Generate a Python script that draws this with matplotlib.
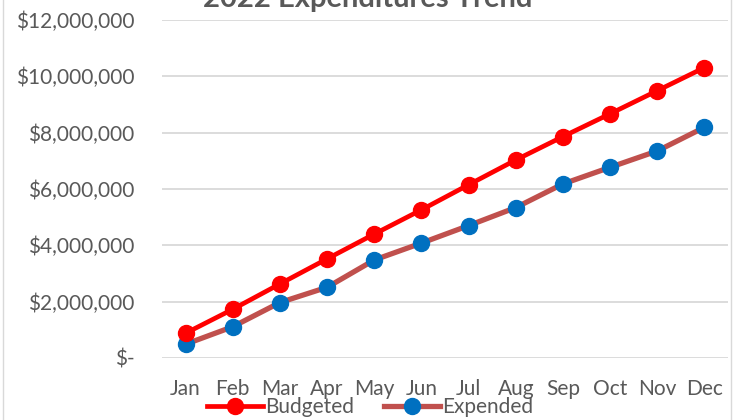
import matplotlib
matplotlib.use("Agg")
import matplotlib.pyplot as plt
from matplotlib.ticker import FuncFormatter
from matplotlib.lines import Line2D

months = ["Jan", "Feb", "Mar", "Apr", "May", "Jun", "Jul", "Aug", "Sep", "Oct", "Nov", "Dec"]
budgeted = [880000, 1730000, 2630000, 3520000, 4400000, 5260000, 6150000, 7030000, 7860000, 8670000, 9490000, 10310000]
expended = [490000, 1110000, 1970000, 2510000, 3480000, 4080000, 4700000, 5340000, 6180000, 6770000, 7350000, 8190000]
title = "2022 Expenditures Trend"

plt.rcParams['font.family'] = ['Lato', 'DejaVu Sans']
grey = "#595959"

fig = plt.figure(figsize=(7.38, 4.2), dpi=100)
ax = fig.add_axes([162/738, 62/420, (728-162)/738, (358-20)/420])

x = list(range(len(months)))
ax.plot(x, budgeted, color="#FF0000", lw=3.4, marker="o", ms=11.5, mfc="#FF0000", mec="#FF0000",
        solid_capstyle="round", zorder=3)
ax.plot(x, expended, color="#C0504D", lw=3.8, marker="o", ms=11.5, mfc="#0070C0", mec="#0070C0",
        solid_capstyle="round", zorder=2)

ax.set_xlim(-0.5, 11.5)
ax.set_ylim(0, 12000000)
ax.set_yticks(range(0, 12000001, 2000000))
ax.yaxis.set_major_formatter(FuncFormatter(lambda v, p: "$-" if v == 0 else "${:,.0f}".format(v)))
ax.set_xticks(x)
ax.set_xticklabels(months)
ax.tick_params(axis="both", length=0, labelsize=15, labelcolor=grey)
ax.tick_params(axis="y", pad=20)
ax.tick_params(axis="x", pad=15)
ax.grid(axis="y", color="#d9d9d9", lw=1.3)
ax.set_axisbelow(True)
for s in ax.spines.values():
    s.set_visible(False)

fig.text(367.5/738, 1 - 7/420, title, ha="center", va="baseline", fontsize=21,
         fontweight="bold", color=grey)

handles = [
    Line2D([], [], color="#FF0000", lw=3.4, marker="o", ms=11.5, mfc="#FF0000", mec="#FF0000"),
    Line2D([], [], color="#C0504D", lw=3.8, marker="o", ms=11.5, mfc="#0070C0", mec="#0070C0"),
]
fig.legend(handles, ["Budgeted", "Expended"], loc="center", bbox_to_anchor=(370/738, 1 - 407/420),
           ncol=2, frameon=False, fontsize=15, labelcolor=grey, handlelength=2.7,
           handletextpad=0.1, columnspacing=1.4, borderpad=0, borderaxespad=0)

fig.add_artist(Line2D([3/738, 3/738], [0, 1], transform=fig.transFigure, color="#d9d9d9", lw=1))
fig.add_artist(Line2D([731/738, 731/738], [0, 1], transform=fig.transFigure, color="#d9d9d9", lw=1))

fig.savefig("out.png", dpi=100)
